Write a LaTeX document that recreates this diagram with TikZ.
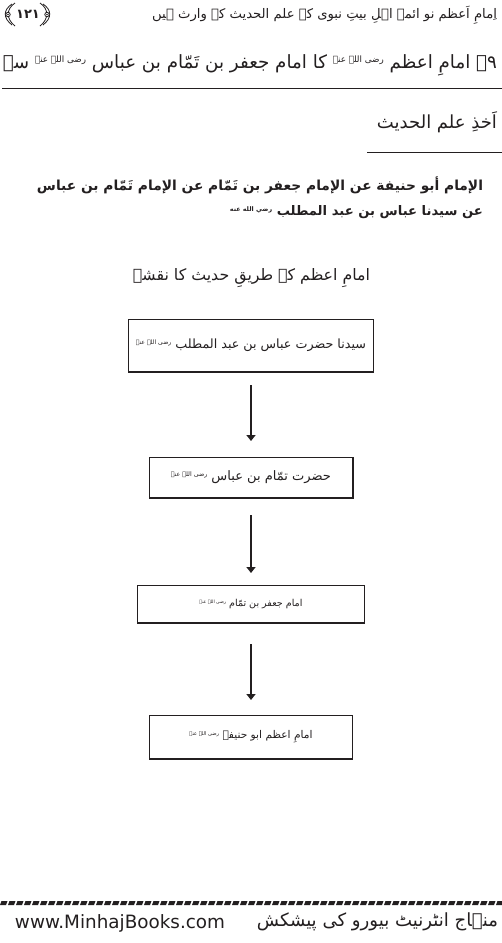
\documentclass[tikz,border=0pt]{standalone}
\usepackage{fontspec}
\usepackage{graphicx}
\usetikzlibrary{arrows.meta}
\TeXXeTstate=1
\newfontfamily\arb[Script=Arabic]{DejaVu Sans}
\newfontfamily\lat{DejaVu Sans}
\newcommand\ur[1]{{\arb\beginR #1\endR}}
\newcommand\hon{\raisebox{0.6ex}{\fontsize{4.8pt}{4.8pt}\selectfont\beginR رضی اللہ عنہ\endR}}
\newcommand\honA{\raisebox{0.6ex}{\fontsize{4.8pt}{4.8pt}\selectfont\beginR رضي الله عنه\endR}}
\definecolor{ink}{HTML}{231F20}
\tikzset{
  txt/.style={inner sep=0pt, outer sep=0pt, text=ink},
  chainbox/.style={draw=ink, line width=0.9pt, inner sep=0pt, outer sep=0pt, text=ink},
  shadowline/.style={draw=ink, line width=1.4pt},
  rule/.style={draw=ink, line width=0.9pt},
  orn/.style={draw=ink, line width=0.8pt},
  arr/.style={draw=ink, line width=2.8pt, -{Triangle[width=9pt,length=6pt]}},
}
\begin{document}
\begin{tikzpicture}[x=1pt,y=-1pt]
\useasboundingbox (0,0) rectangle (502,943);
\fill[white] (0,0) rectangle (502,943);

% running header
\node[txt, anchor=east] (hdr) at (497,15) {\resizebox{345pt}{!}{\ur{اِمامِ اَعظم نو ائمہ اہلِ بیتِ نبوی کے علم الحدیث کے وارث ہیں}}};
% ornate brackets round the page number (drawn as shapes)
\draw[orn] (15,3) .. controls (6,9) and (6,19) .. (15,26);
\draw[orn] (12,4) .. controls (3,10) and (3,18) .. (12,25);
\draw[orn, fill=white] (8,14.5) circle (2.2pt);
\fill[ink] (8,14.5) circle (0.9pt);
\node[txt] (pn) at (28,14) {\arb\fontsize{13}{13}\selectfont\bfseries ۱۲۱};
\draw[orn] (40,3) .. controls (49,9) and (49,19) .. (40,26);
\draw[orn] (43,4) .. controls (52,10) and (52,18) .. (43,25);
\draw[orn, fill=white] (47,14.5) circle (2.2pt);
\fill[ink] (47,14.5) circle (0.9pt);

% title
\node[txt, anchor=east] (t1) at (497,65) {\resizebox{494pt}{!}{\ur{۹۔ امامِ اعظم \hon{} کا امام جعفر بن تَمّام بن عباس \hon{} سے}}};
\draw[rule] (2,88) -- (502,88);
\node[txt, anchor=east] (t2) at (497,122) {\resizebox{120pt}{!}{\ur{اَخذِ علم الحدیث}}};
\draw[rule] (367,152) -- (502,152);

% arabic chain
\node[txt, anchor=east] (p1) at (483,185) {\resizebox{446pt}{!}{\ur{\bfseries الإمام أبو حنيفة عن الإمام جعفر بن تَمّام عن الإمام تَمّام بن عباس}}};
\node[txt, anchor=east] (p2) at (483,212) {\resizebox{253pt}{!}{\ur{\bfseries عن سيدنا عباس بن عبد المطلب \honA}}};

% subheading
\node[txt] (sub) at (251.5,278) {\resizebox{237pt}{!}{\ur{امامِ اعظم کے طریقِ حدیث کا نقشہ}}};

% boxes
\node[chainbox, minimum width=245pt, minimum height=53pt] (b1) at (251,345.5) {\resizebox{230pt}{!}{\ur{سیدنا حضرت عباس بن عبد المطلب \hon}}};
\node[chainbox, minimum width=204pt, minimum height=41pt] (b2) at (251,477.5) {\resizebox{160pt}{!}{\ur{حضرت تمّام بن عباس \hon}}};
\node[chainbox, minimum width=227pt, minimum height=38pt] (b3) at (251,604) {\resizebox{103pt}{!}{\ur{امام جعفر بن تمّام \hon}}};
\node[chainbox, minimum width=203pt, minimum height=44pt] (b4) at (251,737) {\resizebox{123pt}{!}{\ur{امامِ اعظم ابو حنیفہ \hon}}};
\foreach \b in {b1,b2,b3,b4}
  \draw[shadowline] (\b.south west) -- (\b.south east) -- (\b.north east);

% arrows
\draw[arr, shorten <=13pt, shorten >=16pt] (b1.south) -- (b2.north);
\draw[arr, shorten <=17pt, shorten >=12pt] (b2.south) -- (b3.north);
\draw[arr, shorten <=21pt, shorten >=15pt] (b3.south) -- (b4.north);

% footer
\foreach \i in {0,...,63}
  \fill[ink] ({\i*8},905) -- ({\i*8+6},905) -- ({\i*8+7.5},901) -- ({\i*8+1.5},901) -- cycle;
\node[txt, anchor=west] (web) at (15,923) {\resizebox{210pt}{!}{\lat www.MinhajBooks.com}};
\node[txt, anchor=east] (mib) at (498,922) {\resizebox{241pt}{!}{\ur{منہاج انٹرنیٹ بیورو کی پیشکش}}};
\end{tikzpicture}
\end{document}
